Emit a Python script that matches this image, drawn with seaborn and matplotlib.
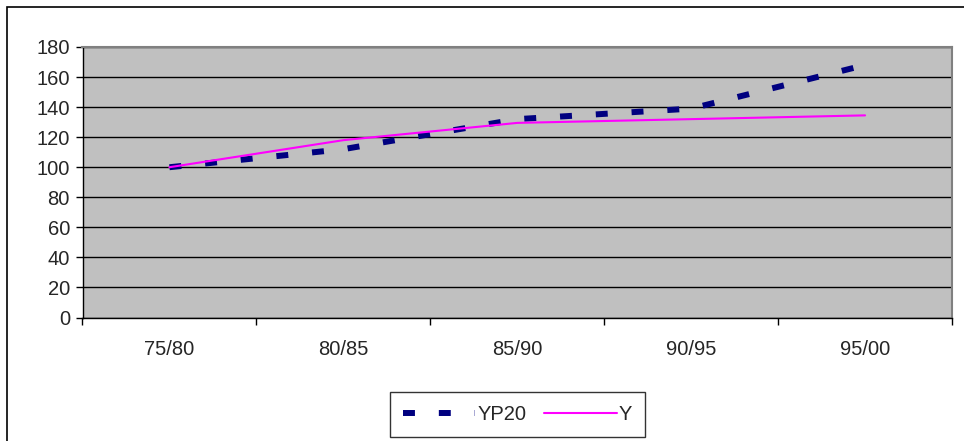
import numpy as np
import pandas as pd
import matplotlib
matplotlib.use("Agg")
import matplotlib.pyplot as plt
from matplotlib.patches import Rectangle
import seaborn as sns

# ── Data ─────────────────────────────────────────────────────────────────────
periods = ["75/80", "80/85", "85/90", "90/95", "95/00"]
yp20 = [100, 112, 132, 139, 168]
y = [100, 118, 129.5, 132, 134.5]

df = pd.DataFrame({
    "period": periods * 2,
    "x": list(range(len(periods))) * 2,
    "value": yp20 + y,
    "series": ["YP20"] * len(periods) + ["Y"] * len(periods),
})

# ── Style ────────────────────────────────────────────────────────────────────
sns.set_theme(style="white")
plt.rcParams["font.family"] = ["Liberation Sans", "DejaVu Sans"]

fig = plt.figure(figsize=(9.64, 4.41), dpi=100)
ax = fig.add_axes([82.5 / 964, 1 - 317.5 / 441, (952 - 82.5) / 964, (317.5 - 47) / 441])
ax.set_facecolor("#C0C0C0")

sns.lineplot(data=df[df["series"] == "YP20"], x="x", y="value", ax=ax,
             color="#000080", linewidth=4.3, label="YP20",
             dashes=False)
sns.lineplot(data=df[df["series"] == "Y"], x="x", y="value", ax=ax,
             color="#FF00FF", linewidth=1.5, label="Y")
ax.lines[0].set_dashes([2, 4])
ax.lines[0].set_dash_capstyle("butt")

# ── Axes ─────────────────────────────────────────────────────────────────────
ax.set_xlim(-0.5, len(periods) - 0.5)
ax.set_ylim(0, 180)
ax.set_yticks(np.arange(0, 181, 20))
ax.set_xticks(range(len(periods)))
ax.set_xticklabels(periods)
ax.set_xticks(np.arange(-0.5, len(periods), 1), minor=True)
ax.tick_params(axis="x", which="major", length=0, pad=16, labelsize=14.5)
ax.tick_params(axis="x", which="minor", length=5, width=1, color="black",
               direction="out", bottom=True)
ax.tick_params(axis="y", length=5, width=1, color="black", direction="out",
               left=True, labelsize=14.5, pad=4)
ax.set_xlabel("")
ax.set_ylabel("")

ax.yaxis.grid(True, color="black", linewidth=1)
ax.set_axisbelow(True)
for side in ["left", "bottom"]:
    ax.spines[side].set_color("black")
    ax.spines[side].set_linewidth(1)
for side in ["top", "right"]:
    ax.spines[side].set_color("#808080")
    ax.spines[side].set_linewidth(1.5)

# ── Legend ───────────────────────────────────────────────────────────────────
leg = ax.legend(loc="center", bbox_to_anchor=(517.5 / 964, 1 - 414.5 / 441),
                bbox_transform=fig.transFigure, ncol=2, frameon=True,
                fancybox=False, fontsize=14.5, handlelength=3.6,
                handletextpad=0.1, columnspacing=0.9, borderpad=0.65,
                edgecolor="black")
leg.get_frame().set_linewidth(1)

# outer chart border
fig.patches.append(Rectangle((7 / 964, -0.1), 1.2, 1.1 - 7 / 441,
                             transform=fig.transFigure, fill=False,
                             edgecolor="black", linewidth=1.2))

plt.savefig("out.png", dpi=100)
